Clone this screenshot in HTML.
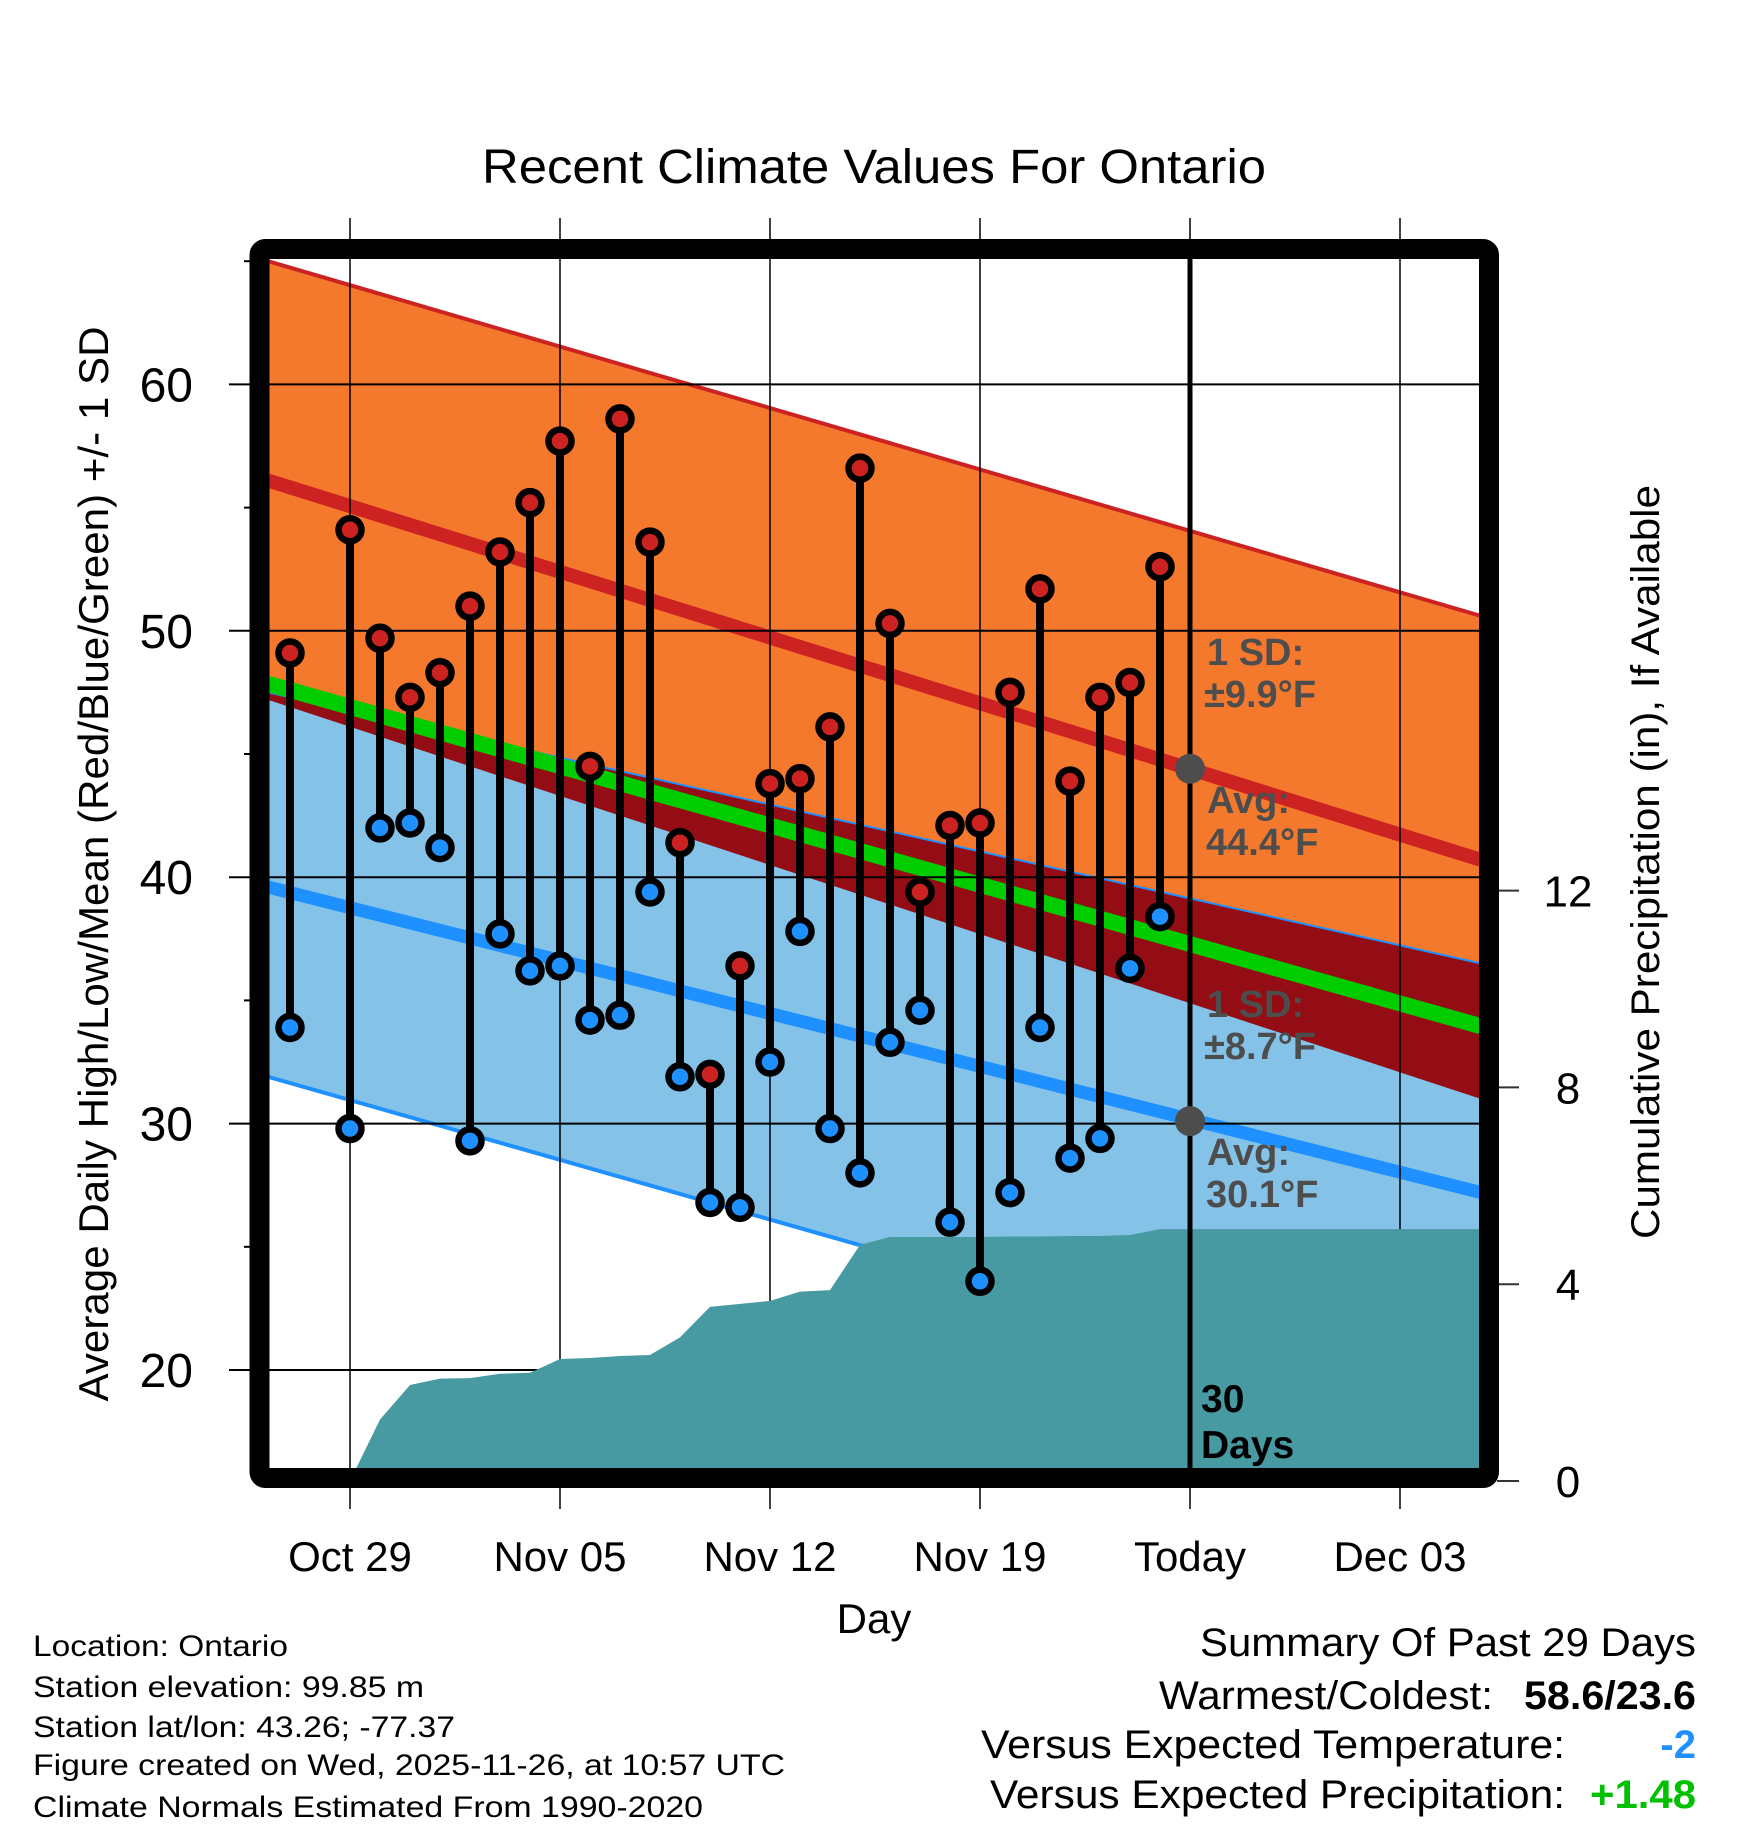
<!DOCTYPE html>
<html><head><meta charset="utf-8"><title>Recent Climate Values For Ontario</title>
<style>html,body{margin:0;padding:0;background:#fff}svg{display:block}text{font-family:"Liberation Sans",sans-serif}</style>
</head><body>
<svg id="chart" width="1748" height="1828" viewBox="0 0 1748 1828" xmlns="http://www.w3.org/2000/svg">
<defs><clipPath id="plotclip"><rect x="269" y="259" width="1211" height="1210"/></clipPath></defs>
<g id="plot" clip-path="url(#plotclip)"></g>
<g id="over"></g>
<rect x="259.5" y="249" width="1229.5" height="1229" rx="6" fill="none" stroke="#000" stroke-width="20"/>
<text x="874" y="183" font-size="48" text-anchor="middle" textLength="784" lengthAdjust="spacingAndGlyphs">Recent Climate Values For Ontario</text>
<text transform="translate(108,864) rotate(-90)" font-size="42" text-anchor="middle" textLength="1075" lengthAdjust="spacingAndGlyphs">Average Daily High/Low/Mean (Red/Blue/Green) +/- 1 SD</text>
<text transform="translate(1659,862) rotate(-90)" font-size="40" text-anchor="middle" textLength="754" lengthAdjust="spacingAndGlyphs">Cumulative Precipitation (in), If Available</text>
<text x="874" y="1633" font-size="42" text-anchor="middle">Day</text>
<g font-size="30">
<text x="33" y="1656" textLength="255" lengthAdjust="spacingAndGlyphs">Location: Ontario</text>
<text x="33" y="1697" textLength="391" lengthAdjust="spacingAndGlyphs">Station elevation: 99.85 m</text>
<text x="33" y="1737" textLength="422" lengthAdjust="spacingAndGlyphs">Station lat/lon: 43.26; -77.37</text>
<text x="33" y="1775" textLength="752" lengthAdjust="spacingAndGlyphs">Figure created on Wed, 2025-11-26, at 10:57 UTC</text>
<text x="33" y="1817" textLength="670" lengthAdjust="spacingAndGlyphs">Climate Normals Estimated From 1990-2020</text>
</g>
<g font-size="40">
<text x="1696" y="1656" text-anchor="end" textLength="496" lengthAdjust="spacingAndGlyphs">Summary Of Past 29 Days</text>
<text x="1493" y="1709" text-anchor="end" textLength="334" lengthAdjust="spacingAndGlyphs">Warmest/Coldest:</text>
<text x="1696" y="1709" text-anchor="end" font-weight="bold" textLength="172" lengthAdjust="spacingAndGlyphs">58.6/23.6</text>
<text x="1565" y="1758" text-anchor="end" textLength="584" lengthAdjust="spacingAndGlyphs">Versus Expected Temperature:</text>
<text x="1696" y="1758" text-anchor="end" font-weight="bold" fill="#1E90FF">-2</text>
<text x="1565" y="1808" text-anchor="end" textLength="575" lengthAdjust="spacingAndGlyphs">Versus Expected Precipitation:</text>
<text x="1696" y="1808" text-anchor="end" font-weight="bold" fill="#00C000" textLength="106" lengthAdjust="spacingAndGlyphs">+1.48</text>
</g>
</svg>
<script>
// ---- data ----
const dayOffsets = [-2,0,1,2,3,4,5,6,7,8,9,10,11,12,13,14,15,16,17,18,19,20,21,22,23,24,25,26,27];
const highs = [49.1,54.1,49.7,47.3,48.3,51.0,53.2,55.2,57.7,44.5,58.6,53.6,41.4,32.0,36.4,43.8,44.0,46.1,56.6,50.3,39.4,42.1,42.2,47.5,51.7,43.9,47.3,47.9,52.6];
const lows  = [33.9,29.8,42.0,42.2,41.2,29.3,37.7,36.2,36.4,34.2,34.4,39.4,31.9,26.8,26.6,32.5,37.8,29.8,28.0,33.3,34.6,26.0,23.6,27.2,33.9,28.6,29.4,36.3,38.4];
const precipDays = [0,1,2,3,4,5,6,7,8,9,10,11,12,13,14,15,16,17,18,19,20,21,22,23,24,25,26,27,37.7];
const precipCum  = [0,1.25,1.95,2.08,2.09,2.18,2.2,2.48,2.5,2.54,2.56,2.92,3.54,3.6,3.66,3.85,3.88,4.8,4.96,4.96,4.96,4.96,4.97,4.97,4.98,4.98,5.0,5.12,5.12];
const normDays = [-2.73, 37.7];
const normHigh = [56.1, 40.7];
const normLow  = [39.6, 27.2];
const highUpper = [65.0, 50.6];
const highLower = [47.2, 31.0];
const lowUpper  = [47.5, 36.5];
const lowLower  = [31.9, 17.9];
const yTicks = [20,30,40,50,60];
const yMinor = [25,35,45,55,65];
const pTicks = [0,4,8,12];
const xTickDays = [0,7,14,21,28,35];
const xTickLabels = ["Oct 29","Nov 05","Nov 12","Nov 19","Today","Dec 03"];
const todayDay = 28;
const todayHighAvg = 44.4, todayLowAvg = 30.1;

// ---- axes ----
const X = d => 350 + 30*d;
const Y = v => 384.4 + (60 - v)*24.64;
const P = p => 1481 - p*49.2;
const NS = "http://www.w3.org/2000/svg";
const plot = document.getElementById('plot');
const over = document.getElementById('over');
function mk(tag, attrs, parent){ const e=document.createElementNS(NS,tag); for(const k in attrs) e.setAttribute(k,attrs[k]); parent.appendChild(e); return e; }
function bandPts(up, lo){ return `${X(normDays[0])},${Y(up[0])} ${X(normDays[1])},${Y(up[1])} ${X(normDays[1])},${Y(lo[1])} ${X(normDays[0])},${Y(lo[0])}`; }
function seg(a){ return {x1:X(normDays[0]),y1:Y(a[0]),x2:X(normDays[1]),y2:Y(a[1])}; }

let e;
e = mk('polygon',{points:bandPts(highUpper,highLower),fill:'#F5792D'},plot);
 
e = mk('polygon',{points:bandPts(lowUpper,lowLower),fill:'#84C2E8'},plot);
 
e = mk('polygon',{points:bandPts(lowUpper,highLower),fill:'#940C14'},plot);
 
e = mk('line',Object.assign(seg(highUpper),{stroke:'#CC2222','stroke-width':4}),plot);
 
e = mk('line',Object.assign(seg(lowUpper),{stroke:'#1E90FF','stroke-width':2}),plot);
 
e = mk('line',Object.assign(seg(lowLower),{stroke:'#1E90FF','stroke-width':4}),plot);
 
e = mk('line',Object.assign(seg(normHigh),{stroke:'#CC2222','stroke-width':14}),plot);
 
e = mk('line',Object.assign(seg(normLow),{stroke:'#1E90FF','stroke-width':13}),plot);
 
const normMean = [(normHigh[0]+normLow[0])/2,(normHigh[1]+normLow[1])/2];
e = mk('line',Object.assign(seg(normMean),{stroke:'#00CC00','stroke-width':16}),plot);
 

yTicks.forEach(v=>{
  e = mk('line',{x1:269,x2:1480,y1:Y(v),y2:Y(v),stroke:'#000','stroke-width':2},plot);
   
});
xTickDays.forEach(d=>{
  e = mk('line',{x1:X(d),x2:X(d),y1:259,y2:1470,stroke:'#000','stroke-width':1.5},plot);
   
});

let pp = `${X(precipDays[0])},1475 `;
precipDays.forEach((d,i)=>{ pp += `${X(d)},${P(precipCum[i])} `; });
pp += `${X(precipDays[precipDays.length-1])},1475`;
e = mk('polygon',{points:pp,fill:'#489AA2'},plot);
 

e = mk('line',{x1:X(todayDay),x2:X(todayDay),y1:259,y2:1470,stroke:'#000','stroke-width':5},plot);
 

function label(txt,x,y,fill,size,name){ const t=mk('text',{x:x,y:y,'font-size':size,'font-weight':'bold',fill:fill},plot); t.textContent=txt;   return t; }
label('1 SD:',1207,665,'#4D4D4D',38,'high-sd-label');
label('±9.9°F',1204,707,'#4D4D4D',38,'high-sd-value');
label('Avg:',1207,813,'#4D4D4D',38,'high-avg-label');
label('44.4°F',1206,855,'#4D4D4D',38,'high-avg-value');
label('1 SD:',1207,1017,'#4D4D4D',38,'low-sd-label');
label('±8.7°F',1204,1059,'#4D4D4D',38,'low-sd-value');
label('Avg:',1207,1165,'#4D4D4D',38,'low-avg-label');
label('30.1°F',1206,1207,'#4D4D4D',38,'low-avg-value');
label('30',1201,1412,'#000',39,'days-count-label');
label('Days',1201,1458,'#000',39,'days-label');
e = mk('circle',{cx:X(todayDay),cy:Y(todayHighAvg),r:15,fill:'#4D4D4D'},plot);
 
e = mk('circle',{cx:X(todayDay),cy:Y(todayLowAvg),r:15,fill:'#4D4D4D'},plot);
 

dayOffsets.forEach((d,i)=>{
  e = mk('line',{x1:X(d),x2:X(d),y1:Y(highs[i]),y2:Y(lows[i]),stroke:'#000','stroke-width':8},plot);
   
});
dayOffsets.forEach((d,i)=>{
  e = mk('circle',{cx:X(d),cy:Y(highs[i]),r:11.5,fill:'#CC2222',stroke:'#000','stroke-width':6.5},plot);
   
  e = mk('circle',{cx:X(d),cy:Y(lows[i]),r:11.5,fill:'#1E90FF',stroke:'#000','stroke-width':6.5},plot);
   
});

yTicks.forEach(v=>{
  e = mk('line',{x1:229,x2:252,y1:Y(v),y2:Y(v),stroke:'#000','stroke-width':2},over);
   
  e = mk('text',{x:193,y:Y(v)+17,'font-size':48,'text-anchor':'end'},over);
  e.textContent = String(v);
   
});
yMinor.forEach(v=>{
  e = mk('line',{x1:244,x2:252,y1:Y(v),y2:Y(v),stroke:'#000','stroke-width':2},over);
   
});
pTicks.forEach(p=>{
  e = mk('line',{x1:1497,x2:1519,y1:P(p),y2:P(p),stroke:'#333','stroke-width':2},over);
   
  e = mk('text',{x:1568,y:P(p)+16,'font-size':44,'text-anchor':'middle'},over);
  e.textContent = String(p);
   
});
xTickDays.forEach((d,i)=>{
  e = mk('line',{x1:X(d),x2:X(d),y1:218,y2:240,stroke:'#000','stroke-width':1.5},over);
   
  e = mk('line',{x1:X(d),x2:X(d),y1:1486,y2:1509,stroke:'#000','stroke-width':1.5},over);
   
  e = mk('text',{x:X(d),y:1571,'font-size':42,'text-anchor':'middle'},over);
  e.textContent = xTickLabels[i];
   
});
</script>
</body></html>
